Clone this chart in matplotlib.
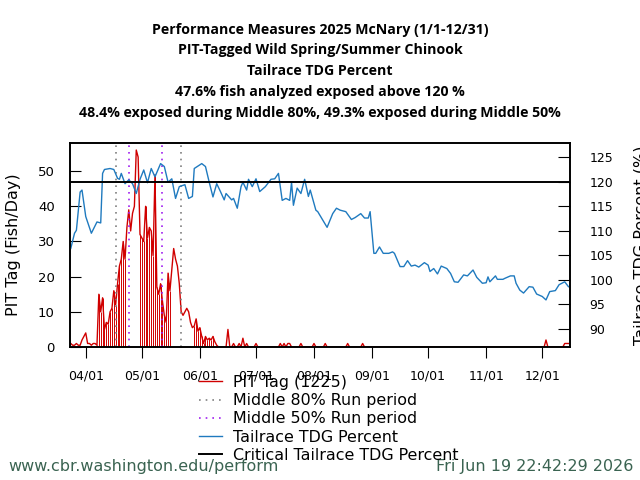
import pandas as pd
import matplotlib
matplotlib.use('Agg')
import matplotlib.pyplot as plt
import matplotlib.dates as mdates
from matplotlib.lines import Line2D

# PIT tag daily counts, Mar 24 - Jun 12
pit_start = '2025-03-24'
pit_main = [1, 0.5, 0.5, 1, 0.5, 0.5, 2, 3, 4, 1, 1, 0.5, 1, 1, 0.5,
            15, 10, 14, 5, 7, 6.5, 10, 11, 16, 12, 18, 23, 25, 30, 25,
            34, 39, 33, 38, 40, 56, 54, 32, 31, 30, 40, 31, 34, 33, 26,
            49, 17, 15, 18, 13, 9, 7, 21, 16, 22, 28, 25, 23, 18, 10,
            9, 10, 11, 10, 7, 5.5, 6, 8, 4.5, 5.5, 3, 1, 3, 2, 2.5,
            2, 3, 1.5, 0.5, 0, 0]
# scattered late detections
late_dates = ['2025-06-16', '2025-06-19', '2025-06-22', '2025-06-24', '2025-06-26',
              '2025-07-01', '2025-07-14', '2025-07-16', '2025-07-18', '2025-07-19',
              '2025-07-25', '2025-08-01', '2025-08-07', '2025-08-19', '2025-08-27',
              '2025-12-03', '2025-12-13', '2025-12-14', '2025-12-15']
late_values = [5, 1, 1, 2.5, 1, 1, 1, 1, 1, 1, 1, 1, 1, 1, 1, 2, 1, 1, 1]

# days drawn as impulses
impulse_ranges = [('2025-04-07', '2025-04-22'), ('2025-04-30', '2025-05-16'),
                  ('2025-05-29', '2025-06-08')]

tdg_dates = ['03-24', '03-26', '03-27', '03-29', '03-30', '04-01', '04-04', '04-07', '04-09',
             '04-10', '04-11', '04-14', '04-16', '04-18', '04-19', '04-20', '04-22', '04-24',
             '04-26', '04-28', '04-30', '05-02', '05-04', '05-06', '05-08', '05-11', '05-13',
             '05-15', '05-17', '05-19', '05-21', '05-24', '05-26', '05-28', '05-29', '06-02',
             '06-04', '06-06', '06-08', '06-10', '06-12', '06-14', '06-15', '06-18', '06-19',
             '06-21', '06-23', '06-24', '06-26', '06-27', '06-29', '07-01', '07-03', '07-06',
             '07-09', '07-11', '07-13', '07-15', '07-17', '07-19', '07-20', '07-21', '07-23',
             '07-25', '07-27', '07-29', '07-30', '08-02', '08-03', '08-08', '08-11', '08-13',
             '08-15', '08-18', '08-21', '08-23', '08-26', '08-28', '08-30', '08-31', '09-02',
             '09-03', '09-05', '09-07', '09-10', '09-12', '09-13', '09-16', '09-18', '09-20',
             '09-22', '09-24', '09-26', '09-29', '10-01', '10-02', '10-04', '10-06', '10-08',
             '10-11', '10-13', '10-15', '10-17', '10-20', '10-22', '10-25', '10-27', '10-30',
             '11-01', '11-02', '11-03', '11-06', '11-07', '11-10', '11-11', '11-14', '11-16',
             '11-17', '11-19', '11-21', '11-24', '11-26', '11-28', '12-01', '12-03', '12-05',
             '12-08', '12-10', '12-13', '12-15']
tdg_values = [106.4, 109.5, 110.1, 117.9, 118.3, 112.9, 109.5, 111.8, 111.6,
              121.7, 122.5, 122.7, 122.5, 120.7, 120.5, 121.7, 119.6, 120.4,
              119.6, 117.6, 120.5, 122.4, 119.8, 122.7, 121.0, 123.7, 123.1,
              119.9, 120.6, 116.6, 119.0, 119.4, 116.6, 117.0, 122.7, 123.7,
              123.1, 119.9, 116.9, 119.6, 118.0, 116.3, 117.6, 116.3, 116.6,
              114.6, 119.0, 119.9, 118.3, 120.5, 119.0, 120.6, 118.0, 119.0,
              120.5, 120.6, 121.7, 116.2, 116.6, 116.2, 119.9, 115.2, 118.7,
              117.6, 120.5, 117.0, 118.3, 114.2, 113.9, 110.7, 113.5, 114.6,
              114.2, 113.9, 112.3, 112.7, 113.5, 112.6, 112.6, 113.9, 105.4,
              105.4, 106.7, 105.4, 105.4, 105.7, 105.4, 102.7, 102.7, 103.9,
              102.8, 103.0, 102.6, 103.5, 103.0, 101.7, 102.3, 101.2, 102.8,
              102.3, 101.3, 99.6, 99.5, 101.0, 100.8, 102.0, 100.5, 99.3,
              99.4, 100.6, 99.6, 100.8, 100.1, 100.1, 100.3, 100.8, 100.8,
              99.3, 97.9, 97.3, 98.6, 98.5, 97.1, 96.6, 95.9, 97.6,
              97.8, 99.0, 99.6, 98.6]

critical_tdg = 120
mid80 = ['2025-04-17', '2025-05-22']
mid50 = ['2025-04-24', '2025-05-12']

titles = ['Performance Measures 2025 McNary (1/1-12/31)',
          'PIT-Tagged Wild Spring/Summer Chinook',
          'Tailrace TDG Percent',
          '47.6% fish analyzed exposed above 120 %',
          '48.4% exposed during Middle 80%, 49.3% exposed during Middle 50%']

# build daily PIT series
days = pd.date_range(pit_start, '2025-12-15', freq='D')
pit = pd.Series(0.0, index=days)
pit.iloc[:len(pit_main)] = pit_main
for d, v in zip(late_dates, late_values):
    pit[pd.Timestamp(d)] = v
imp = pd.concat([pit[a:b] for a, b in impulse_ranges])

tdg_x = pd.to_datetime(['2025-' + d for d in tdg_dates])

fig = plt.figure(figsize=(6.4, 4.8), dpi=100)
ax = fig.add_axes([70/640, 1-347/480, 500/640, 204/480])
ax2 = ax.twinx()

red = '#d00000'
dot = (0, (1, 3))
ax.plot(pit.index, pit.values, color=red, lw=1)
ax.vlines(imp.index, 0, imp.values, color=red, lw=0.7)
for d in mid80:
    ax.axvline(pd.Timestamp(d), color='#808080', ls=dot, lw=1.2)
for d in mid50:
    ax.axvline(pd.Timestamp(d), color='#a020f0', ls=dot, lw=1.2)

ax2.plot(tdg_x, tdg_values, color='#1f7abf', lw=1)
ax2.axhline(critical_tdg, color='black', lw=1.4)

ax.set_xlim(pd.Timestamp('2025-03-23 14:00'), pd.Timestamp('2025-12-15 20:00'))
ax.set_ylim(0, 58)
ax2.set_ylim(86.3, 127.9)
ax.set_yticks([0, 10, 20, 30, 40, 50])
ax2.set_yticks([90, 95, 100, 105, 110, 115, 120, 125])

ax.xaxis.set_major_locator(mdates.MonthLocator(bymonth=range(4, 13)))
ax.xaxis.set_major_formatter(mdates.DateFormatter('%m/%d'))
ax.tick_params(axis='x', direction='out', length=8, pad=8, labelsize=9)
ax.tick_params(axis='y', direction='in', length=8, pad=11, labelsize=9.5)
ax2.tick_params(axis='y', direction='in', length=9, pad=14, labelsize=9)
for a in (ax, ax2):
    for s in a.spines.values():
        s.set_linewidth(1.2)

ax.set_ylabel('PIT Tag (Fish/Day)', fontsize=11.5, labelpad=12)
fig.text(641/640, 0.49, 'Tailrace TDG Percent (%)', rotation=90, ha='center',
         va='center', fontsize=11.5)

handles = [Line2D([], [], color=red, lw=1),
           Line2D([], [], color='#808080', ls=dot, lw=1.2),
           Line2D([], [], color='#a020f0', ls=dot, lw=1.2),
           Line2D([], [], color='#1f7abf', lw=1),
           Line2D([], [], color='black', lw=1.4)]
labels = ['PIT Tag (1225)', 'Middle 80% Run period', 'Middle 50% Run period',
          'Tailrace TDG Percent', 'Critical Tailrace TDG Percent']
fig.legend(handles, labels, loc='upper left', bbox_to_anchor=(199/640, 1-375/480),
           frameon=False, borderpad=0, borderaxespad=0, handlelength=1.45,
           handletextpad=0.72, labelspacing=0.2, fontsize=11.4)

ys = [30, 50, 71, 92, 113]
for t, y in zip(titles, ys):
    fig.text(0.5, 1-y/480, t, ha='center', va='center', fontsize=10.2,
             fontweight='bold', family='Open Sans')

fig.text(8/640, 1-466/480, 'www.cbr.washington.edu/perform', ha='left', va='center',
         fontsize=11.5, color='#3a6351')
fig.text(633/640, 1-466/480, 'Fri Jun 19 22:42:29 2026', ha='right', va='center',
         fontsize=11.5, color='#3a6351')

fig.savefig('out.png', dpi=100)
